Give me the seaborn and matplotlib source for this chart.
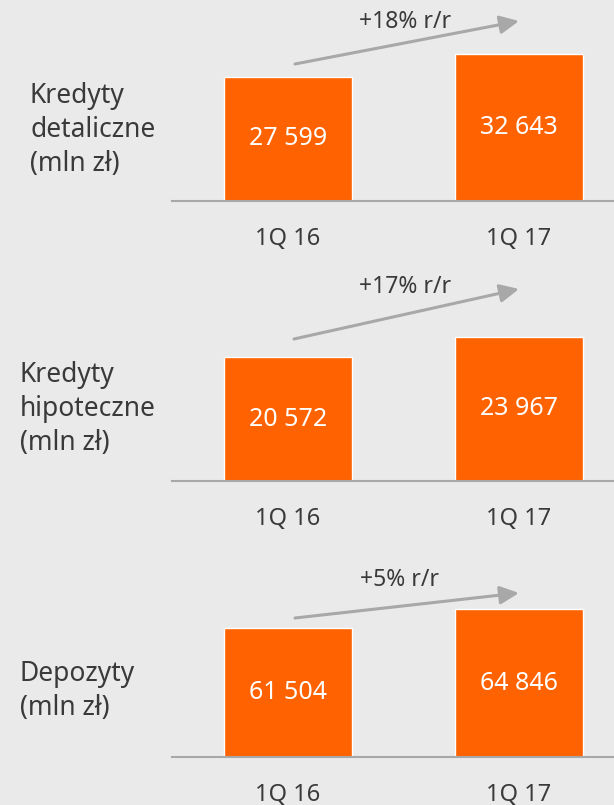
import pandas as pd
import matplotlib.pyplot as plt
import seaborn as sns

periods = ["1Q 16", "1Q 17"]
retail_loans = [27599, 32643]
mortgage_loans = [20572, 23967]
deposits = [61504, 64846]
panel_titles = ["Kredyty\ndetaliczne\n(mln zł)",
                "Kredyty\nhipoteczne\n(mln zł)",
                "Depozyty\n(mln zł)"]
growth_labels = ["+18% r/r", "+17% r/r", "+5% r/r"]

W, H = 614, 805
BG = "#eaeaea"
ORANGE = "#ff6200"
TEXT = "#3a3a3a"
GREY = "#a8a8a8"

sns.set_theme(style="white")
plt.rcParams["font.family"] = ["Noto Sans", "DejaVu Sans"]

fig = plt.figure(figsize=(W / 100, H / 100), dpi=100)
fig.patch.set_facecolor(BG)


def fx(px):
    return px / W


def fy(py):
    return 1 - py / H


# layout per panel (pixels): baseline, ylim, title pos, arrow start/end, growth text pos
layout = [
    dict(base=201, ylim=(0, 44500), title=(30, 130), arr=((295, 64), (519, 21)), grow=(405, 22)),
    dict(base=481, ylim=(0, 33200), title=(20, 409), arr=((294, 339), (519, 289)), grow=(405, 287)),
    dict(base=757, ylim=(38800, 74000), title=(20, 691), arr=((295, 618), (519, 593)), grow=(400, 580)),
]
series = [retail_loans, mortgage_loans, deposits]

for vals, title, growth, lo in zip(series, panel_titles, growth_labels, layout):
    df = pd.DataFrame({"okres": periods, "wartosc": vals})
    ax = fig.add_axes([fx(172), fy(lo["base"]), fx(614 - 172), 200 / H])
    ax.set_facecolor("none")
    sns.barplot(data=df, x="okres", y="wartosc", color=ORANGE, saturation=1,
                width=0.554, ax=ax)
    ax.set_xlim(-0.502, 1.411)
    ax.set_ylim(*lo["ylim"])
    for side in ["top", "right", "left"]:
        ax.spines[side].set_visible(False)
    ax.spines["bottom"].set_color(GREY)
    ax.spines["bottom"].set_linewidth(1.5)
    ax.set_yticks([])
    ax.set_xlabel("")
    ax.set_ylabel("")
    ax.tick_params(axis="x", length=0, pad=19, labelsize=17, labelcolor=TEXT)

    bottom = max(lo["ylim"][0], 0)
    for i, v in enumerate(vals):
        ax.text(i, (bottom + v) / 2, f"{v:,}".replace(",", " "), ha="center",
                va="center", color="white", fontsize=18)

    fig.text(fx(lo["title"][0]), fy(lo["title"][1]), title, ha="left", va="center",
             color=TEXT, fontsize=19, linespacing=1.3)

    (x0, y0), (x1, y1) = lo["arr"]
    fig.add_artist(plt.matplotlib.patches.FancyArrowPatch(
        (fx(x0), fy(y0)), (fx(x1), fy(y1)), transform=fig.transFigure,
        arrowstyle="-|>,head_length=1.15,head_width=0.55", mutation_scale=10,
        color=GREY, lw=2.2, shrinkA=0, shrinkB=0))
    fig.text(fx(lo["grow"][0]), fy(lo["grow"][1]), growth, ha="center", va="center",
             color=TEXT, fontsize=16.5)

fig.savefig("out.png", dpi=100, facecolor=BG)
